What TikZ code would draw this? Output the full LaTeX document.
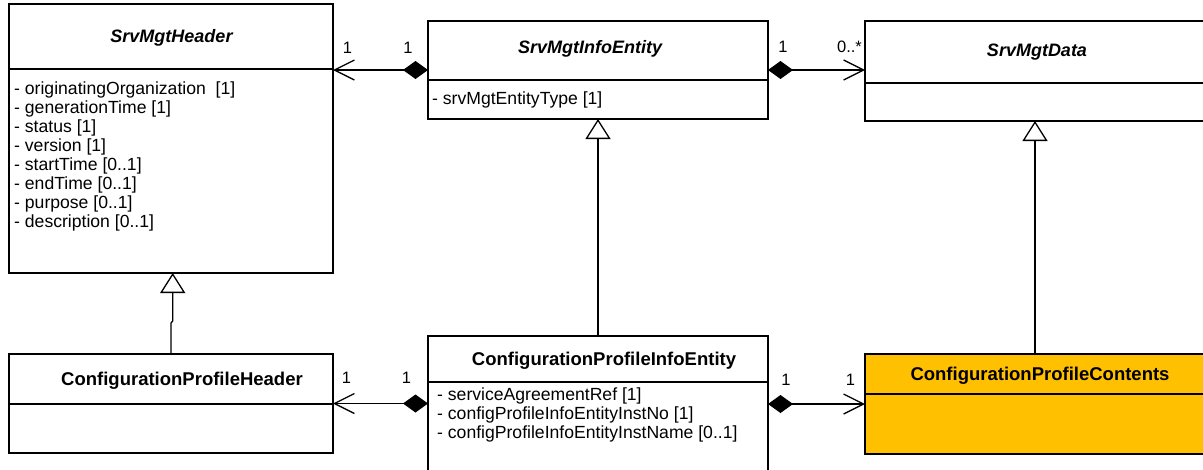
\documentclass[tikz,border=0pt]{standalone}
\usepackage{fontspec}
\setmainfont{Liberation Sans}
\usetikzlibrary{arrows.meta,calc}
\definecolor{cpcfill}{HTML}{FFC000}
\tikzset{
  umlbox/.style={draw=black, line width=1.8pt, inner sep=0pt, outer sep=0pt},
  sepline/.style={line width=1.8pt},
  title/.style={font=\fontsize{18.5}{20}\selectfont\bfseries, anchor=base, inner sep=0pt},
  atitle/.style={title, font=\fontsize{18}{20}\selectfont\bfseries\itshape},
  attr/.style={font=\fontsize{17.6}{19}\selectfont, anchor=base west, inner sep=0pt},
  mult/.style={font=\fontsize{16.5}{18}\selectfont, anchor=base, inner sep=0pt},
  assoc/.style={line width=1.3pt, {Diamond[length=25pt,width=18pt]}-{Straight Barb[length=20pt,width=20pt]}},
  gen/.style={line width=1.3pt, -{Triangle[length=20pt,width=25pt,fill=white]}},
}
\begin{document}
\begin{tikzpicture}[x=1pt,y=-1pt]
\useasboundingbox (0,0) rectangle (1203,469);
\clip (0,0) rectangle (1203,469);
\fill[white] (0,0) rectangle (1203,469);

% boxes
\node[umlbox, minimum width=324pt, minimum height=269pt] (hdr) at (171,138.5) {};
\node[umlbox, minimum width=340pt, minimum height=98pt] (info) at (598,70) {};
\node[umlbox, minimum width=340pt, minimum height=100pt] (data) at (1035,71) {};
\node[umlbox, minimum width=324pt, minimum height=99pt] (cph) at (171,403.5) {};
\node[umlbox, minimum width=340pt, minimum height=154pt] (cpie) at (598,413) {};
\node[umlbox, fill=cpcfill, minimum width=340pt, minimum height=100pt] (cpc) at (1035,404) {};

% separators
\draw[sepline] (hdr.west |- 0,69) -- (hdr.east |- 0,69);
\draw[sepline] (info.west |- 0,80) -- (info.east |- 0,80);
\draw[sepline] (data.west |- 0,83) -- (data.east |- 0,83);
\draw[sepline] (cph.west |- 0,404) -- (cph.east |- 0,404);
\draw[sepline] (cpie.west |- 0,382) -- (cpie.east |- 0,382);
\draw[sepline] (cpc.west |- 0,394) -- (cpc.east |- 0,394);

% titles
\node[atitle] (thdr) at (171.5,42) {SrvMgtHeader};
\node[atitle] (tinfo) at (590,53) {SrvMgtInfoEntity};
\node[atitle] (tdata) at (1037,56) {SrvMgtData};
\node[title] (tcph) at (182,385) {ConfigurationProfileHeader};
\node[title] (tcpie) at (604,365) {ConfigurationProfileInfoEntity};
\node[title] (tcpc) at (1040,380) {ConfigurationProfileContents};

% attributes
\foreach \t [count=\i from 0] in {{- originatingOrganization~\ [1]},{- generationTime [1]},{- status [1]},{- version [1]},{- startTime [0..1]},{- endTime [0..1]},{- purpose [0..1]},{- description [0..1]}}
  \node[attr] (ha\i) at (14,94+19.05*\i) {\t};
\node[attr] (ia0) at (432,104) {- srvMgtEntityType [1]};
\foreach \t [count=\i from 0] in {{- serviceAgreementRef [1]},{- configProfileInfoEntityInstNo [1]},{- configProfileInfoEntityInstName [0..1]}}
  \node[attr] (ca\i) at (437,400+19*\i) {\t};

% associations
\draw[assoc] (info.west) -- (hdr.east |- info.west);
\draw[assoc] (info.east) -- (data.west |- info.east);
\draw[assoc] (cpie.west |- cph.east) -- (cph.east);
\draw[assoc] (cpie.east |- cpc.west) -- (cpc.west);

% generalizations
\draw[gen] (cph.north) -- ($(cph.north)+(0,-31)$) -- ($(cph.north)+(1.7,-33)$) -- ($(hdr.south)+(1.7,0)$);
\draw[gen] (cpie.north) -- (info.south);
\draw[gen] (cpc.north) -- (data.south);

% multiplicities
\node[mult] (m1) at (347.5,53) {1};
\node[mult] (m2) at (408,53) {1};
\node[mult] (m3) at (783,52) {1};
\node[mult] (m4) at (849.5,52) {0..*};
\node[mult] (m5) at (346.5,383) {1};
\node[mult] (m6) at (406.5,383) {1};
\node[mult] (m7) at (786,385) {1};
\node[mult] (m8) at (850.5,385) {1};
\end{tikzpicture}
\end{document}
